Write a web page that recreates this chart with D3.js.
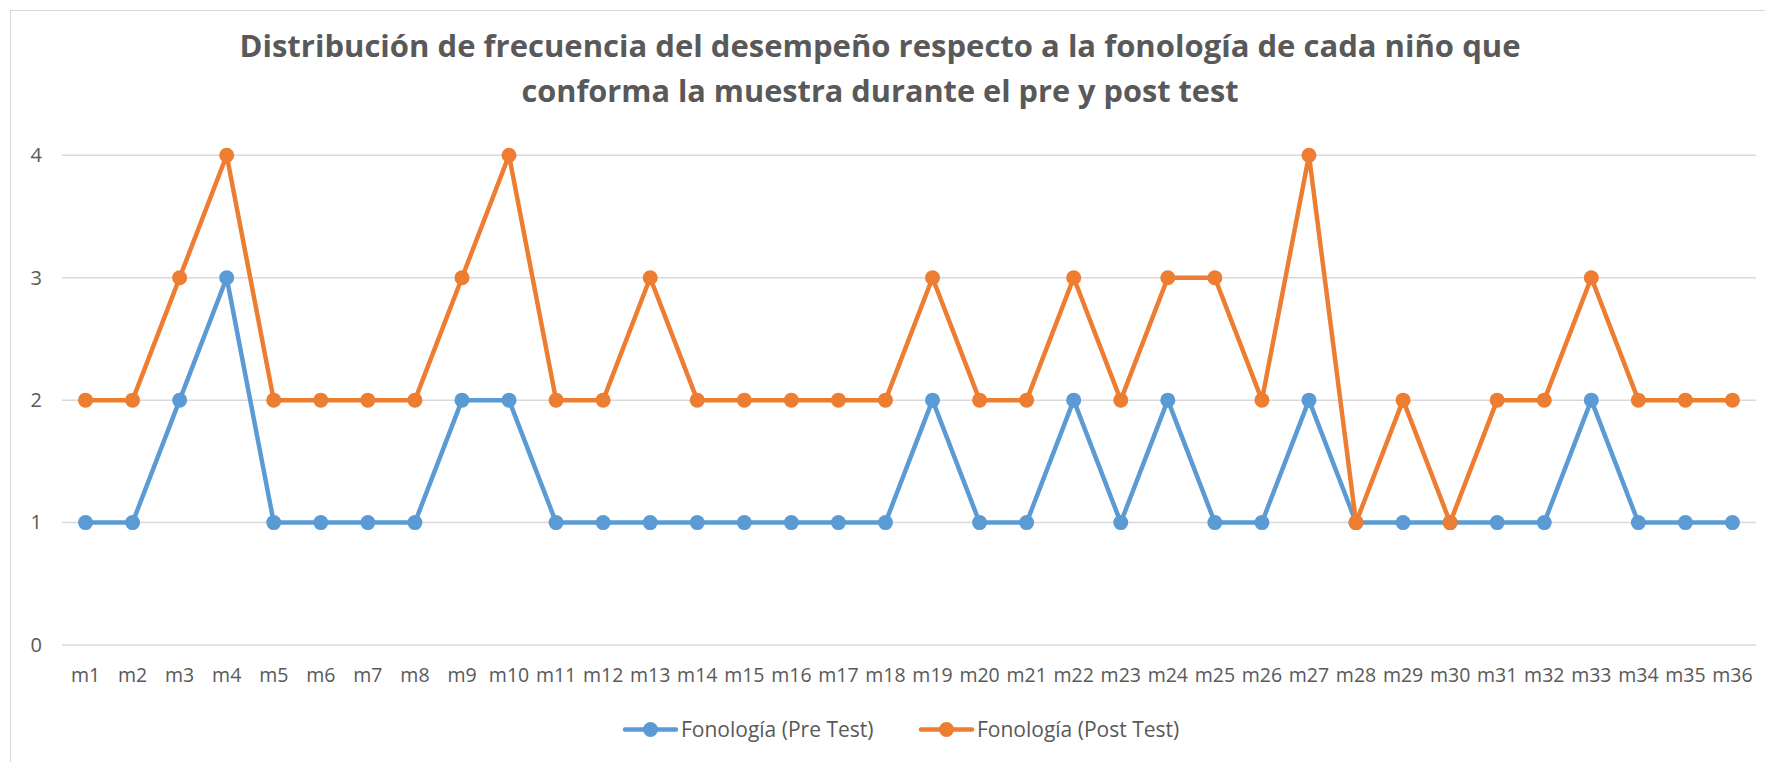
<!DOCTYPE html>
<html>
<head>
<meta charset="utf-8">
<script src="https://cdn.jsdelivr.net/npm/d3@7"></script>
<style>
  body { margin: 0; background: #fff; }
  text { font-family: "Open Sans", "Noto Sans", sans-serif; fill: #595959; }
</style>
</head>
<body>
<div id="chart"></div>
<script>
// data
const categories = d3.range(1, 37).map(i => "m" + i);
const preTest  = [1,1,2,3,1,1,1,1,2,2,1,1,1,1,1,1,1,1,2,1,1,2,1,2,1,1,2,1,1,1,1,1,2,1,1,1];
const postTest = [2,2,3,4,2,2,2,2,3,4,2,2,3,2,2,2,2,2,3,2,2,3,2,3,3,2,4,1,2,1,2,2,3,2,2,2];
const yTicks = [0, 1, 2, 3, 4];
const seriesNames = ["Fonología (Pre Test)", "Fonología (Post Test)"];
const titleLines = [
  "Distribución de frecuencia del desempeño respecto a la fonología de cada niño que",
  "conforma la muestra durante el pre y post test"
];

const W = 1765, H = 762;
const colors = ["#5b9bd5", "#ed7d31"];

const svg = d3.select("#chart").append("svg")
  .attr("width", W)
  .attr("height", H);

// chart area border
svg.append("rect")
  .attr("x", 10.5).attr("y", 10.5)
  .attr("width", 1800).attr("height", 800)
  .attr("fill", "none")
  .attr("stroke", "#d9d9d9");

// title
svg.selectAll(".title")
  .data(titleLines)
  .enter().append("text")
  .attr("class", "title")
  .attr("x", 880)
  .attr("y", (d, i) => 57 + i * 45)
  .attr("text-anchor", "middle")
  .attr("font-size", 30)
  .attr("font-weight", "bold")
  .attr("textLength", (d, i) => i === 0 ? 1281 : 717)
  .attr("lengthAdjust", "spacingAndGlyphs")
  .text(d => d);

const x = d3.scaleBand().domain(categories).range([62, 1756]);
const y = d3.scaleLinear().domain([0, 4]).range([645, 155.3]);

// gridlines
svg.append("g")
  .selectAll("line")
  .data(yTicks)
  .enter().append("line")
  .attr("x1", 62).attr("x2", 1756)
  .attr("y1", d => y(d)).attr("y2", d => y(d))
  .attr("stroke", "#d9d9d9")
  .attr("stroke-width", 1.5);

// y axis labels
const yAxis = svg.append("g")
  .attr("transform", "translate(42,0)")
  .call(d3.axisLeft(y).tickValues(yTicks).tickFormat(d3.format("d")).tickSize(0).tickPadding(0));
yAxis.select(".domain").remove();
yAxis.selectAll("text").attr("font-size", 20).attr("fill", "#595959")
  .attr("font-family", "Open Sans");

// x axis labels
const xAxis = svg.append("g")
  .attr("transform", "translate(0,668)")
  .call(d3.axisBottom(x).tickSize(0).tickPadding(0));
xAxis.select(".domain").remove();
xAxis.selectAll("text").attr("font-size", 19.5).attr("fill", "#595959")
  .attr("font-family", "Open Sans");

const cx = d => x(d) + x.bandwidth() / 2;
const line = d3.line()
  .x((d, i) => cx(categories[i]))
  .y(d => y(d));

[preTest, postTest].forEach((vals, s) => {
  const g = svg.append("g");
  g.append("path")
    .datum(vals)
    .attr("d", line)
    .attr("fill", "none")
    .attr("stroke", colors[s])
    .attr("stroke-width", 4.5)
    .attr("stroke-linejoin", "round")
    .attr("stroke-linecap", "round");
  g.selectAll("circle")
    .data(vals)
    .enter().append("circle")
    .attr("cx", (d, i) => cx(categories[i]))
    .attr("cy", d => y(d))
    .attr("r", 7.5)
    .attr("fill", colors[s]);
});

// legend
const legendX = [625, 921];
const legend = svg.selectAll(".legend")
  .data(seriesNames)
  .enter().append("g")
  .attr("class", "legend")
  .attr("transform", (d, i) => `translate(${legendX[i]},729.5)`);
legend.append("line")
  .attr("x1", 0).attr("x2", 51)
  .attr("stroke", (d, i) => colors[i])
  .attr("stroke-width", 4.5)
  .attr("stroke-linecap", "round");
legend.append("circle")
  .attr("cx", 25.5).attr("r", 7.5)
  .attr("fill", (d, i) => colors[i]);
legend.append("text")
  .attr("x", 56)
  .attr("dy", "0.35em")
  .attr("font-size", 21)
  .text(d => d);
</script>
</body>
</html>
